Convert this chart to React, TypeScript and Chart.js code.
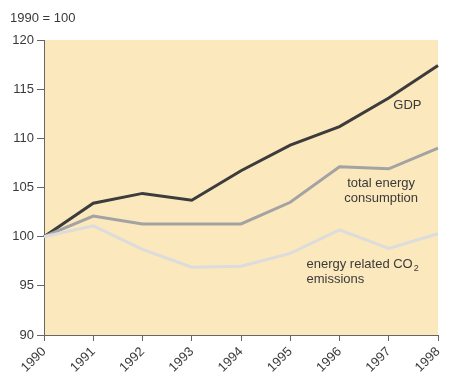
import React, { useEffect, useRef } from "react";
import { Chart, registerables } from "chart.js";

Chart.register(...registerables);

const years = ["1990", "1991", "1992", "1993", "1994", "1995", "1996", "1997", "1998"];
const gdp = [100, 103.4, 104.4, 103.7, 106.7, 109.3, 111.2, 114.1, 117.4];
const energy = [100, 102.1, 101.3, 101.3, 101.3, 103.5, 107.1, 106.9, 109.0];
const co2 = [100, 101.1, 98.7, 96.9, 97.0, 98.3, 100.7, 98.8, 100.3];
const yTicks = [90, 95, 100, 105, 110, 115, 120];

const FONT = "'Liberation Sans', Arial, sans-serif";

const decor = {
  id: "decor",
  beforeDraw(chart: any) {
    const { ctx, chartArea } = chart;
    ctx.save();
    ctx.fillStyle = "#FBE8BC";
    ctx.fillRect(chartArea.left, chartArea.top, chartArea.right - chartArea.left, chartArea.bottom - chartArea.top);
    ctx.restore();
  },
  afterDraw(chart: any) {
    const { ctx } = chart;
    const xs = chart.scales.x;
    const ys = chart.scales.y;
    ctx.save();
    ctx.fillStyle = "#3a3a3a";
    ctx.font = `13px ${FONT}`;
    ctx.textBaseline = "middle";
    ctx.textAlign = "left";
    ctx.fillText("1990 = 100", 10, 18);
    const px = (v: number) => xs.getPixelForValue(v);
    ctx.textAlign = "center";
    ctx.fillText("GDP", (px(7) + px(8)) / 2 - 6, ys.getPixelForValue(113.3));
    ctx.fillText("total energy", (px(6) + px(7)) / 2 + 17, ys.getPixelForValue(105.4));
    ctx.fillText("consumption", (px(6) + px(7)) / 2 + 17, ys.getPixelForValue(103.9));
    ctx.textAlign = "left";
    const x0 = px(6) - 33;
    ctx.fillText("energy related CO", x0, ys.getPixelForValue(97.2));
    const w = ctx.measureText("energy related CO").width;
    ctx.font = `9px ${FONT}`;
    ctx.fillText("2", x0 + w + 1, ys.getPixelForValue(97.2) + 4);
    ctx.font = `13px ${FONT}`;
    ctx.fillText("emissions", x0, ys.getPixelForValue(95.7));
    ctx.restore();
  },
};

export default function App() {
  const ref = useRef<HTMLCanvasElement>(null);
  useEffect(() => {
    document.body.style.margin = "0";
    const chart = new Chart(ref.current!, {
      type: "line",
      data: {
        labels: years,
        datasets: [
          { label: "energy related CO2 emissions", data: co2, borderColor: "#DCDCDC", borderWidth: 3, pointRadius: 0, tension: 0 },
          { label: "total energy consumption", data: energy, borderColor: "#A3A3A3", borderWidth: 3, pointRadius: 0, tension: 0 },
          { label: "GDP", data: gdp, borderColor: "#3C3C3C", borderWidth: 3, pointRadius: 0, tension: 0 },
        ],
      },
      options: {
        animation: false,
        responsive: false,
        layout: { padding: { top: 40, right: 12, left: 0, bottom: 0 } },
        plugins: { legend: { display: false }, tooltip: { enabled: false } },
        scales: {
          x: {
            offset: false,
            grid: { drawOnChartArea: false, drawTicks: true, tickLength: 6, color: "#666" },
            border: { display: true, color: "#666", width: 1 },
            ticks: { color: "#3a3a3a", font: { family: FONT, size: 13 }, maxRotation: 45, minRotation: 45, padding: 3 },
            afterFit: (s: any) => { s.height = 43; s.paddingRight = 0; s.paddingLeft = 0; },
          },
          y: {
            min: 90,
            max: 120,
            afterBuildTicks: (s: any) => { s.ticks = yTicks.map((v) => ({ value: v })); },
            grid: { drawOnChartArea: false, drawTicks: true, tickLength: 7, color: "#666" },
            border: { display: true, color: "#666", width: 1 },
            ticks: { color: "#3a3a3a", font: { family: FONT, size: 13 }, padding: 3 },
            afterFit: (s: any) => { s.width = 44; s.paddingTop = 0; s.paddingBottom = 0; },
          },
        },
      },
      plugins: [decor],
    });
    return () => chart.destroy();
  }, []);
  return <canvas ref={ref} width={450} height={378} style={{ display: "block" }} />;
}
